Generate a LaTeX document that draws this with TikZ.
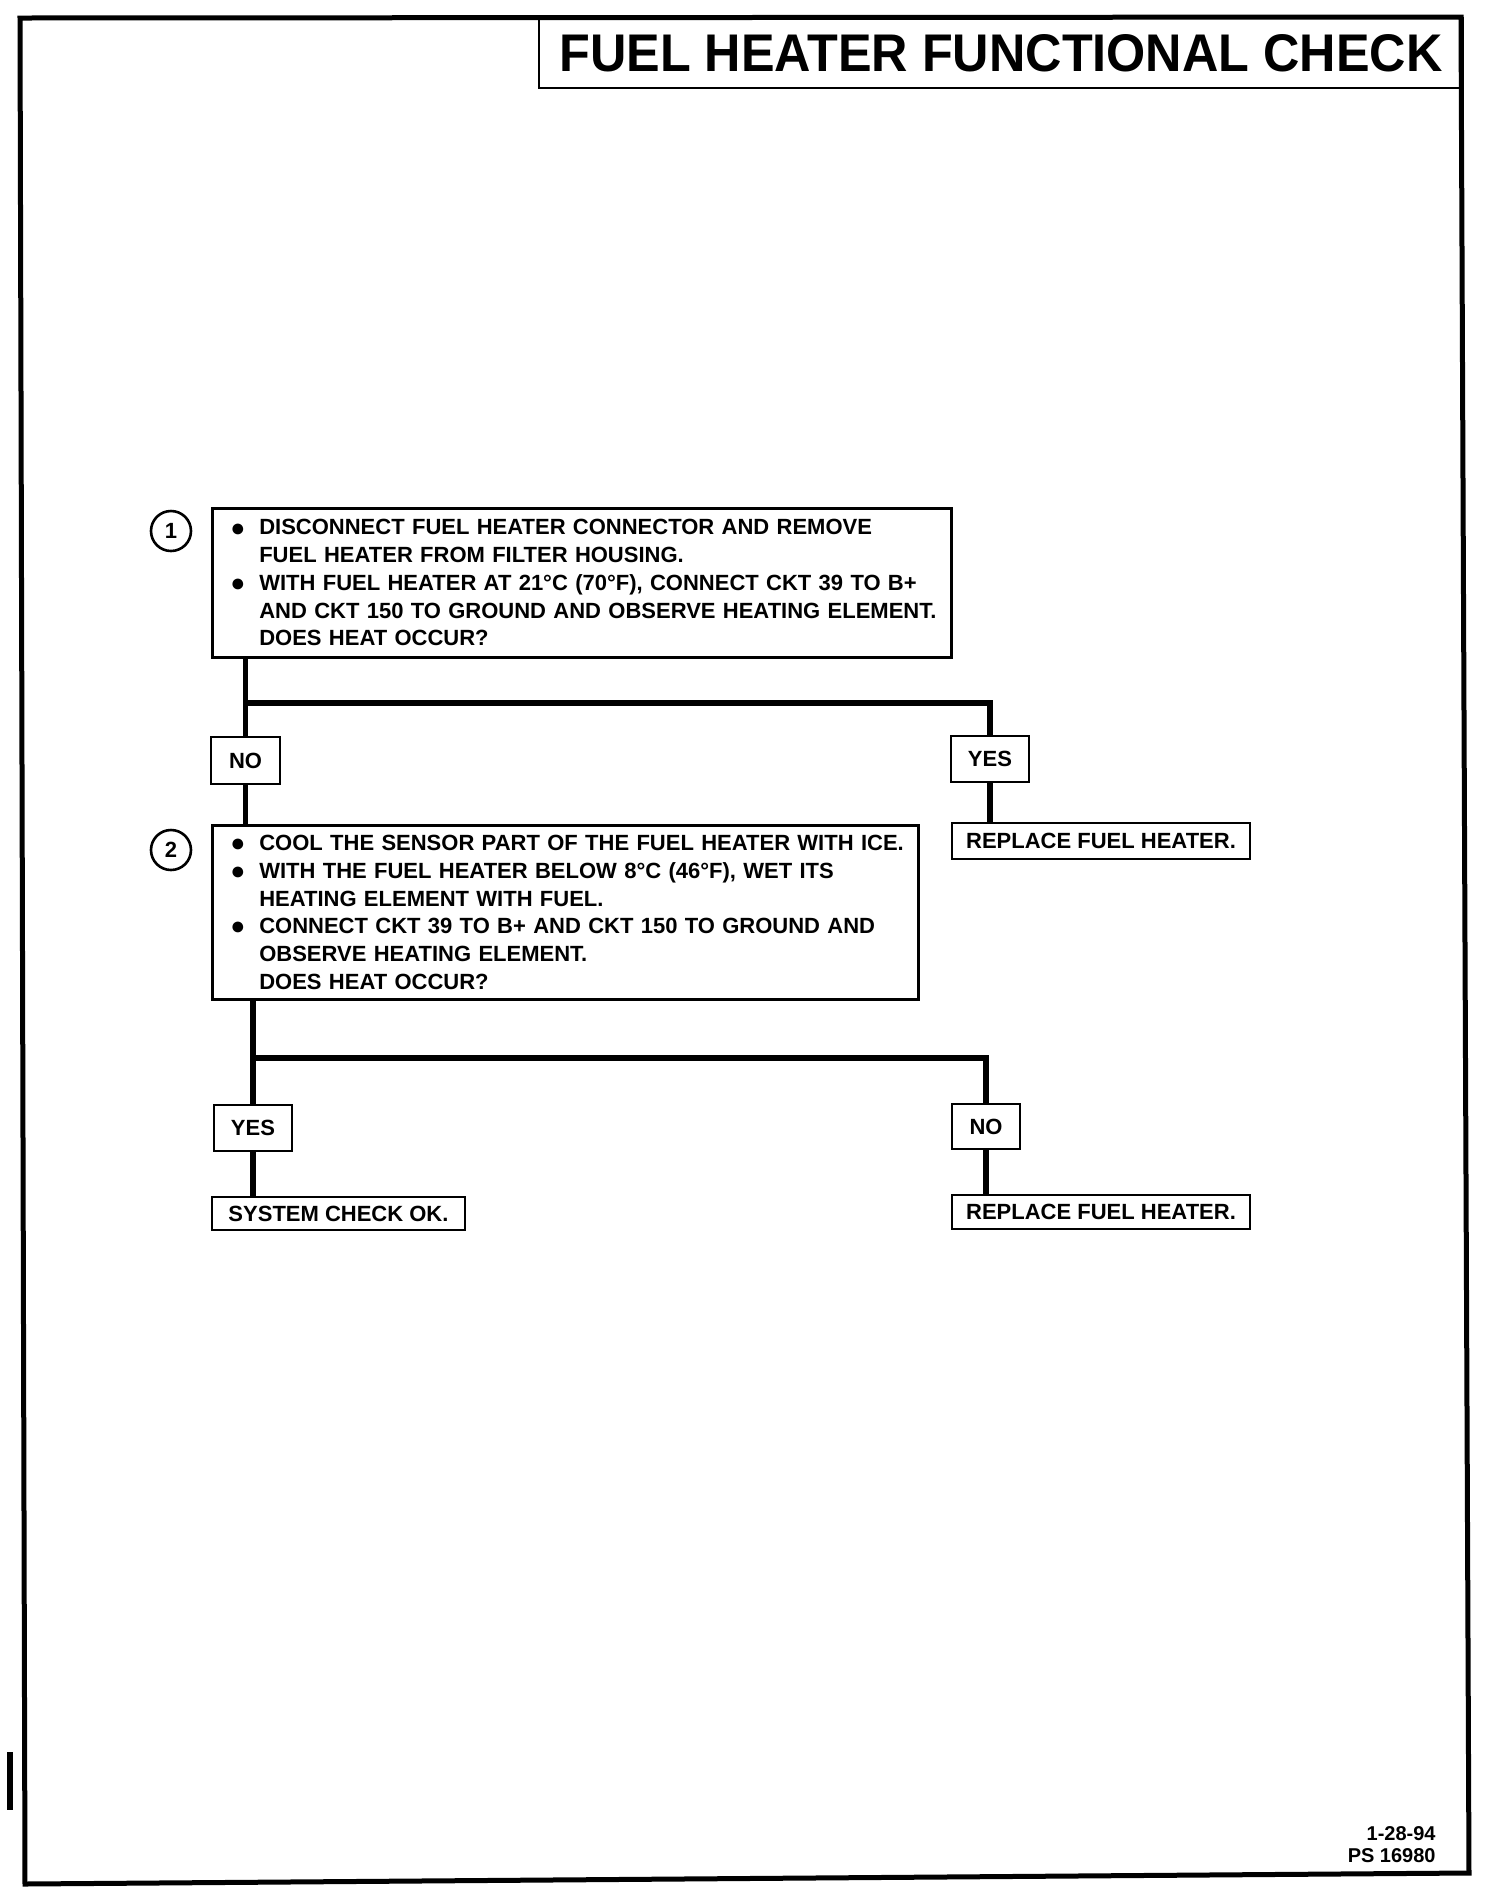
\documentclass[tikz,border=0pt]{standalone}
\usepackage{fontspec}
\usepackage{graphicx}
\setmainfont{Liberation Sans}
\usetikzlibrary{positioning, calc}
\tikzstyle{question} = [rectangle, draw=black, line width=1.3pt, anchor=north west, align=left, inner xsep=0pt, inner ysep=0pt, font=\bfseries\fontsize{11}{13.85}\selectfont]
\tikzstyle{answer} = [rectangle, draw=black, line width=1.3pt, inner sep=0pt, font=\bfseries\fontsize{11}{13}\selectfont]
\tikzstyle{stepno} = [circle, draw=black, line width=1.3pt, minimum size=20pt, inner sep=0pt, font=\bfseries\fontsize{11}{13}\selectfont]
\tikzstyle{link} = [line width=2.6pt]
\newcommand{\bul}{\hspace*{9pt}\makebox[14.5pt][l]{\raisebox{-0.6pt}{\fontsize{12.5}{12.5}\selectfont ●}}}
\newcommand{\ind}{\hspace*{23.5pt}}

\begin{document}
\begin{tikzpicture}[x=0.5pt, y=-0.5pt]
    \useasboundingbox (0,0) rectangle (1488,1892);
    % page frame and title
    \draw [line width=2.5pt] (20,18) -- (1461,17) -- (1469,1873) -- (25,1884) -- cycle;
    \fill (7,1752) rectangle (13,1810);
    \node (title) [rectangle, draw=black, line width=1.4pt, minimum width=462pt, minimum height=35pt, inner sep=0pt, font=\bfseries\fontsize{26.5}{28}\selectfont] at (1001,53) {\scalebox{0.95}[1]{FUEL HEATER FUNCTIONAL CHECK}};

    % step 1
    \node (q1) [question, text width=369.5pt, minimum height=74.5pt] at (211,507) {\bul DISCONNECT FUEL HEATER CONNECTOR AND REMOVE\\
        \ind FUEL HEATER FROM FILTER HOUSING.\\
        \bul WITH FUEL HEATER AT 21\textdegree C (70\textdegree F), CONNECT CKT 39 TO B+\\
        \ind AND CKT 150 TO GROUND AND OBSERVE HEATING ELEMENT.\\
        \ind DOES HEAT OCCUR?};
    \node (s1) [stepno] at (171,531) {1};
    \node (no1) [answer, minimum width=34.5pt, minimum height=23.5pt] at (245.5,760.5) {NO};
    \node (yes1) [answer, minimum width=39pt, minimum height=23pt] at (990,759) {YES};
    \node (rep1) [answer, minimum width=149pt, minimum height=18pt] at (1101,841) {REPLACE FUEL HEATER.};
    \coordinate (split1) at (245.5,703);

    % step 2
    \node (q2) [question, text width=353pt, minimum height=87pt] at (211,824) {\bul COOL THE SENSOR PART OF THE FUEL HEATER WITH ICE.\\
        \bul WITH THE FUEL HEATER BELOW 8\textdegree C (46\textdegree F), WET ITS\\
        \ind HEATING ELEMENT WITH FUEL.\\
        \bul CONNECT CKT 39 TO B+ AND CKT 150 TO GROUND AND\\
        \ind OBSERVE HEATING ELEMENT.\\
        \ind DOES HEAT OCCUR?};
    \node (s2) [stepno] at (171,850) {2};
    \node (yes2) [answer, minimum width=39pt, minimum height=23pt] at (253,1128) {YES};
    \node (no2) [answer, minimum width=34pt, minimum height=22.5pt] at (986,1126.5) {NO};
    \node (ok) [answer, minimum width=126.5pt, minimum height=16.5pt] at (338.5,1213.5) {SYSTEM CHECK OK.};
    \node (rep2) [answer, minimum width=149pt, minimum height=17pt] at (1101,1212) {REPLACE FUEL HEATER.};
    \coordinate (split2) at (253,1058);

    \node (stamp) [anchor=east, align=right, inner sep=0pt, font=\bfseries\fontsize{10}{11}\selectfont] at (1436,1845) {1-28-94\\PS 16980};

    \draw [link] (no1 |- q1.south) -- (no1.north);
    \draw [link] (split1) -| (yes1.north);
    \draw [link] (no1.south) -- (no1 |- q2.north);
    \draw [link] (yes1.south) -- (yes1 |- rep1.north);
    \draw [link] (yes2 |- q2.south) -- (yes2.north);
    \draw [link] (split2) -| (no2.north);
    \draw [link] (no2.south) -- (no2 |- rep2.north);
    \draw [link] (yes2.south) -- (yes2 |- ok.north);
\end{tikzpicture}
\end{document}
